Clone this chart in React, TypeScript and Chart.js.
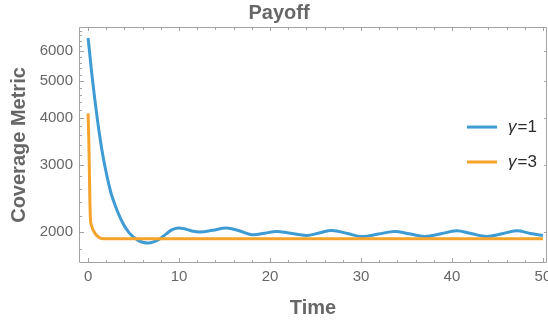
import { useEffect, useRef } from 'react';
import { Chart, registerables } from 'chart.js';

Chart.register(...registerables);

// γ = 1 run: coverage metric over time
const gamma1Time = [
  0, 0.5, 1.0, 1.5, 2.0, 2.5, 3.0, 3.5, 4.0, 4.5, 5.0, 5.5, 6.0,
  6.6, 7.2, 7.9, 8.6, 9.2, 9.9, 10.6, 11.4, 12.3, 13.7, 15.2, 16.6, 18.0, 19.4,
  20.7, 22.3, 24.0, 25.4, 26.8, 28.5, 30.1, 31.9, 33.7, 35.3, 37.0, 38.8, 40.5,
  42.1, 43.8, 45.5, 47.1, 48.6, 50,
];
const gamma1Coverage = [
  6500, 5000, 4000, 3310, 2860, 2540, 2340, 2185, 2070, 1990, 1935, 1898, 1876,
  1867, 1880, 1917, 1975, 2022, 2045, 2036, 2010, 1996, 2018, 2045, 2012, 1964, 1982,
  2004, 1982, 1956, 1985, 2016, 1980, 1944, 1972, 2004, 1975, 1944, 1976, 2012,
  1978, 1944, 1976, 2012, 1980, 1956,
];

// γ = 3 run: coverage metric over time
const gamma3Time = [
  0, 0.05, 0.1, 0.15, 0.2, 0.25, 0.4, 0.6, 0.8, 1.0, 1.2, 1.5, 2.0, 3, 5, 10, 20, 30, 40, 50,
];
const gamma3Coverage = [
  4110, 3700, 3300, 2800, 2400, 2180, 2070, 2010, 1975, 1950, 1932, 1920, 1916, 1916, 1916,
  1916, 1916, 1916, 1916, 1916,
];

const chartTitle = 'Payoff';
const seriesLabels = ['γ=1', 'γ=3'];
const seriesColors = ['#3e9bd4', '#f5a32a'];

const xTickValues = [0, 10, 20, 30, 40, 50];
const xMinorValues = [2, 4, 6, 8, 12, 14, 16, 18, 22, 24, 26, 28, 32, 34, 36, 38, 42, 44, 46, 48];
const yTickValues = [2000, 3000, 4000, 5000, 6000];
const yMinorValues = [
  1800, 2200, 2400, 2600, 2800, 3200, 3400, 3600, 3800, 4200, 4400, 4600, 4800,
  5200, 5400, 5600, 5800, 6200, 6400, 6600, 6800,
];

const FONT = "'Liberation Sans', Arial, sans-serif";
const FRAME = '#a3a3a3';
const TEXT_GRAY = '#676767';

// Frame with inward ticks on all four sides, the plot label and the inset legend
const framePlugin = {
  id: 'frameTicks',
  afterDatasetsDraw(chart: any) {
    const { ctx, chartArea, scales } = chart;
    const { left, right, top, bottom } = chartArea;
    const xs = scales.x;
    const ys = scales.y;
    ctx.save();
    ctx.strokeStyle = FRAME;
    ctx.lineWidth = 1;
    ctx.beginPath();
    ctx.moveTo(left + 0.5, top + 0.5);
    ctx.lineTo(right - 0.5, top + 0.5);
    ctx.lineTo(right - 0.5, bottom - 0.5);
    ctx.lineTo(left + 0.5, bottom - 0.5);
    ctx.closePath();
    ctx.stroke();

    ctx.beginPath();
    const vTick = (v: number, lenB: number, lenT: number) => {
      const px = Math.round(xs.getPixelForValue(v)) + 0.5;
      ctx.moveTo(px, bottom);
      ctx.lineTo(px, bottom - lenB);
      ctx.moveTo(px, top);
      ctx.lineTo(px, top + lenT);
    };
    xTickValues.forEach((v) => vTick(v, 5, 4));
    xMinorValues.forEach((v) => vTick(v, 3, 3));
    const hTick = (v: number, lenL: number, lenR: number) => {
      const py = Math.round(ys.getPixelForValue(v)) + 0.5;
      ctx.moveTo(left, py);
      ctx.lineTo(left + lenL, py);
      if (lenR > 0) {
        ctx.moveTo(right, py);
        ctx.lineTo(right - lenR, py);
      }
    };
    yTickValues.forEach((v) => hTick(v, 5, 3));
    yMinorValues.forEach((v) => hTick(v, 3, 0));
    ctx.stroke();
    ctx.restore();
  },
  afterDraw(chart: any) {
    const { ctx, chartArea } = chart;
    const { right, top, bottom } = chartArea;
    ctx.save();

    // plot label
    ctx.fillStyle = TEXT_GRAY;
    ctx.font = `bold 20px ${FONT}`;
    ctx.textAlign = 'center';
    ctx.textBaseline = 'middle';
    ctx.fillText(chartTitle, chart.width / 2 + 5, top - 14);

    // legend
    const h = bottom - top;
    const rows = [0.424, 0.572];
    chart.data.datasets.forEach((ds: any, i: number) => {
      const y = top + h * rows[i];
      ctx.strokeStyle = ds.borderColor;
      ctx.lineWidth = 3;
      ctx.beginPath();
      ctx.moveTo(right - 80, y);
      ctx.lineTo(right - 50, y);
      ctx.stroke();
      const label: string = ds.label;
      ctx.fillStyle = '#2b2b2b';
      ctx.textBaseline = 'middle';
      ctx.textAlign = 'left';
      let x = right - 39;
      ctx.font = `italic 17px ${FONT}`;
      const first = label.slice(0, 1);
      ctx.fillText(first, x, y);
      x += ctx.measureText(first).width + 1;
      ctx.font = `17px ${FONT}`;
      ctx.fillText(label.slice(1), x, y);
    });
    ctx.restore();
  },
};

export default function App() {
  const canvasRef = useRef<HTMLCanvasElement>(null);

  useEffect(() => {
    document.body.style.margin = '0';
    const canvas = canvasRef.current;
    if (!canvas) return;
    const chart = new Chart(canvas, {
      type: 'line',
      data: {
        datasets: [
          {
            label: seriesLabels[0],
            data: gamma1Time.map((t, i) => ({ x: t, y: gamma1Coverage[i] })),
            borderColor: seriesColors[0],
            borderWidth: 3,
            pointRadius: 0,
            fill: false,
            tension: 0.4,
            order: 1,
          },
          {
            label: seriesLabels[1],
            data: gamma3Time.map((t, i) => ({ x: t, y: gamma3Coverage[i] })),
            borderColor: seriesColors[1],
            borderWidth: 3,
            pointRadius: 0,
            fill: false,
            cubicInterpolationMode: 'monotone',
            order: 0,
          },
        ],
      },
      options: {
        animation: false,
        responsive: false,
        layout: { padding: { top: 27, right: 1 } },
        plugins: {
          legend: { display: false },
          tooltip: { enabled: false },
          title: { display: false },
        },
        scales: {
          x: {
            type: 'linear',
            min: -1,
            max: 50.45,
            grid: { display: false, drawTicks: false, tickLength: 0 },
            border: { display: false },
            afterBuildTicks: (s: any) => {
              s.ticks = xTickValues.map((v) => ({ value: v }));
            },
            afterFit: (s: any) => {
              s.height = 57;
              s.paddingLeft = 0;
              s.paddingRight = 0;
            },
            ticks: {
              padding: 5,
              color: TEXT_GRAY,
              font: { family: FONT, size: 15 },
              maxRotation: 0,
              autoSkip: false,
              callback: (v: any) => String(v),
            },
            title: {
              display: true,
              text: 'Time',
              color: TEXT_GRAY,
              font: { family: FONT, size: 20, weight: 'bold' },
              padding: { top: 0, bottom: 0 },
            },
          },
          y: {
            type: 'logarithmic',
            min: 1654,
            max: 6950,
            grid: { display: false, drawTicks: false, tickLength: 0 },
            border: { display: false },
            afterBuildTicks: (s: any) => {
              s.ticks = yTickValues.map((v) => ({ value: v }));
            },
            afterFit: (s: any) => {
              s.width = 79;
              s.paddingTop = 0;
              s.paddingBottom = 0;
            },
            ticks: {
              padding: 6,
              color: TEXT_GRAY,
              font: { family: FONT, size: 15 },
              autoSkip: false,
              callback: (v: any) => String(v),
            },
            title: {
              display: true,
              text: 'Coverage Metric',
              color: TEXT_GRAY,
              font: { family: FONT, size: 20, weight: 'bold' },
              padding: { top: 7, bottom: 0 },
            },
          },
        },
      },
      plugins: [framePlugin],
    });
    return () => chart.destroy();
  }, []);

  return <canvas ref={canvasRef} width={548} height={320} style={{ display: 'block' }} />;
}
